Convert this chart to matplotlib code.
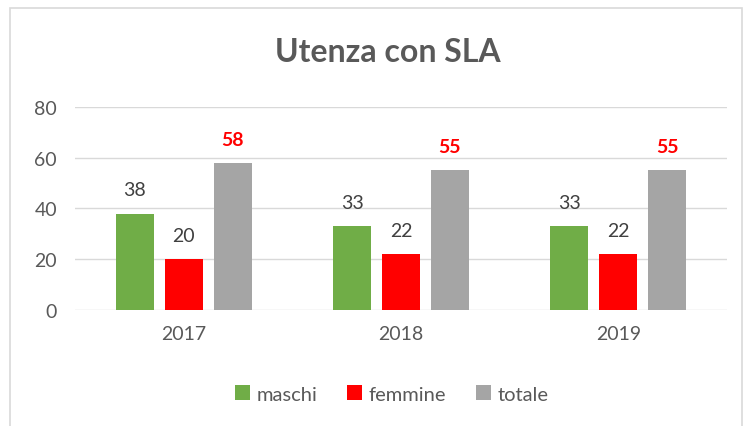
import matplotlib.pyplot as plt
import numpy as np
from matplotlib.patches import Rectangle

years = ["2017", "2018", "2019"]
maschi = [38, 33, 33]
femmine = [20, 22, 22]
totale = [58, 55, 55]

plt.rcParams["font.family"] = ["Lato", "DejaVu Sans"]

fig = plt.figure(figsize=(7.49, 4.27), dpi=100)
ax = fig.add_axes([0.1001, 0.2717, 0.8705, 0.4754])

# chart frame
fig.patches.append(Rectangle((0.013, -0.01), 0.977, 0.988, transform=fig.transFigure,
                             fill=False, edgecolor="#d9d9d9", linewidth=1.2))

x = np.arange(len(years))
w = 0.175
off = 0.225
series = [(maschi, "maschi", "#70AD47"), (femmine, "femmine", "#FF0000"), (totale, "totale", "#A5A5A5")]
for i, (vals, name, col) in enumerate(series):
    bars = ax.bar(x + (i - 1) * off, vals, w, color=col, label=name, zorder=3)
    for b, v in zip(bars, vals):
        if name == "totale":
            ax.annotate(str(v), (b.get_x() + b.get_width() / 2, v), xytext=(0, 11),
                        textcoords="offset points", ha="center", va="bottom",
                        color="#FF0000", fontsize=14, fontweight="bold")
        else:
            ax.annotate(str(v), (b.get_x() + b.get_width() / 2, v), xytext=(0, 11),
                        textcoords="offset points", ha="center", va="bottom",
                        color="#404040", fontsize=14)

ax.set_xlim(-0.5, 2.5)
ax.set_ylim(0, 80)
ax.set_yticks([0, 20, 40, 60, 80])
ax.set_xticks(x)
ax.set_xticklabels(years)
ax.grid(axis="y", color="#d9d9d9", linewidth=1, zorder=0)
for s in ax.spines.values():
    s.set_visible(False)
ax.tick_params(length=0, labelsize=14, labelcolor="#595959")
ax.tick_params(axis="x", pad=11)
ax.tick_params(axis="y", pad=13)

fig.text(0.518, 0.878, "Utenza con SLA", ha="center", va="center",
         fontsize=23, fontweight="bold", color="#595959")

fig.legend(loc="center", bbox_to_anchor=(0.523, 0.075), ncol=3, frameon=False,
           fontsize=14.5, handlelength=0.75, handleheight=0.75, handletextpad=0.3,
           columnspacing=1.5, labelcolor="#595959")

fig.savefig("out.png", dpi=100)
